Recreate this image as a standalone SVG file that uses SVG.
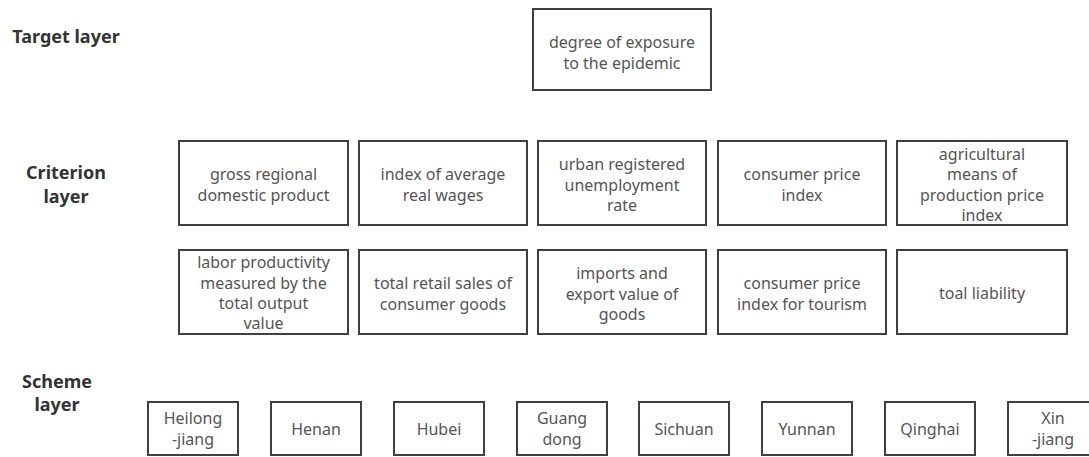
<svg xmlns="http://www.w3.org/2000/svg" width="1089" height="457" viewBox="0 0 1089 457">
<style>
.box{fill:#fff;stroke:#404040;stroke-width:2}
.t{font-family:"Noto Sans","Open Sans",sans-serif;font-size:16px;fill:#555;text-anchor:middle}
.lab{font-family:"Noto Sans","Open Sans",sans-serif;font-size:18px;font-weight:bold;fill:#333;text-anchor:middle}
</style>
<rect width="1089" height="457" fill="#fff"/>
<g id="labels">
<text class="lab" x="66" y="43">Target layer</text>
<text class="lab" x="66" y="179">Criterion</text>
<text class="lab" x="66" y="203">layer</text>
<text class="lab" x="57" y="388">Scheme</text>
<text class="lab" x="57" y="411">layer</text>
</g>
<g id="target">
<rect class="box" x="533" y="9" width="178" height="81"/>
<text class="t" x="622" y="48">degree of exposure</text>
<text class="t" x="622" y="69">to the epidemic</text>
</g>
<g id="c1"><rect class="box" x="179" y="141" width="169" height="84"/>
<text class="t" x="263.5" y="180">gross regional</text><text class="t" x="263.5" y="201">domestic product</text></g>
<g id="c2"><rect class="box" x="359" y="141" width="168" height="84"/>
<text class="t" x="443" y="180">index of average</text><text class="t" x="443" y="201">real wages</text></g>
<g id="c3"><rect class="box" x="538" y="141" width="168" height="84"/>
<text class="t" x="622" y="170">urban registered</text><text class="t" x="622" y="191">unemployment</text><text class="t" x="622" y="211">rate</text></g>
<g id="c4"><rect class="box" x="718" y="141" width="168" height="84"/>
<text class="t" x="802" y="180">consumer price</text><text class="t" x="802" y="201">index</text></g>
<g id="c5"><rect class="box" x="897" y="141" width="170" height="84"/>
<text class="t" x="982" y="160">agricultural</text><text class="t" x="982" y="180">means of</text><text class="t" x="982" y="201">production price</text><text class="t" x="982" y="221">index</text></g>
<g id="c6"><rect class="box" x="179" y="250" width="169" height="84"/>
<text class="t" x="263.5" y="268">labor productivity</text><text class="t" x="263.5" y="289">measured by the</text><text class="t" x="263.5" y="309">total output</text><text class="t" x="263.5" y="329">value</text></g>
<g id="c7"><rect class="box" x="359" y="250" width="168" height="84"/>
<text class="t" x="443" y="289">total retail sales of</text><text class="t" x="443" y="310">consumer goods</text></g>
<g id="c8"><rect class="box" x="538" y="250" width="168" height="84"/>
<text class="t" x="622" y="279">imports and</text><text class="t" x="622" y="300">export value of</text><text class="t" x="622" y="320">goods</text></g>
<g id="c9"><rect class="box" x="718" y="250" width="168" height="84"/>
<text class="t" x="802" y="289">consumer price</text><text class="t" x="802" y="310">index for tourism</text></g>
<g id="c10"><rect class="box" x="897" y="250" width="170" height="84"/>
<text class="t" x="982" y="299">toal liability</text></g>
<g id="s1"><rect class="box" x="148" y="402" width="90" height="53"/>
<text class="t" x="193" y="424">Heilong</text><text class="t" x="193" y="445">-jiang</text></g>
<g id="s2"><rect class="box" x="271" y="402" width="90" height="53"/>
<text class="t" x="316" y="435">Henan</text></g>
<g id="s3"><rect class="box" x="394" y="402" width="90" height="53"/>
<text class="t" x="439" y="435">Hubei</text></g>
<g id="s4"><rect class="box" x="517" y="402" width="90" height="53"/>
<text class="t" x="562" y="424">Guang</text><text class="t" x="562" y="445">dong</text></g>
<g id="s5"><rect class="box" x="639" y="402" width="90" height="53"/>
<text class="t" x="684" y="435">Sichuan</text></g>
<g id="s6"><rect class="box" x="762" y="402" width="90" height="53"/>
<text class="t" x="807" y="435">Yunnan</text></g>
<g id="s7"><rect class="box" x="885" y="402" width="90" height="53"/>
<text class="t" x="930" y="435">Qinghai</text></g>
<g id="s8"><rect class="box" x="1008" y="402" width="90" height="53"/>
<text class="t" x="1053" y="424">Xin</text><text class="t" x="1053" y="445">-jiang</text></g>
<g id="connectors"></g>
</svg>
